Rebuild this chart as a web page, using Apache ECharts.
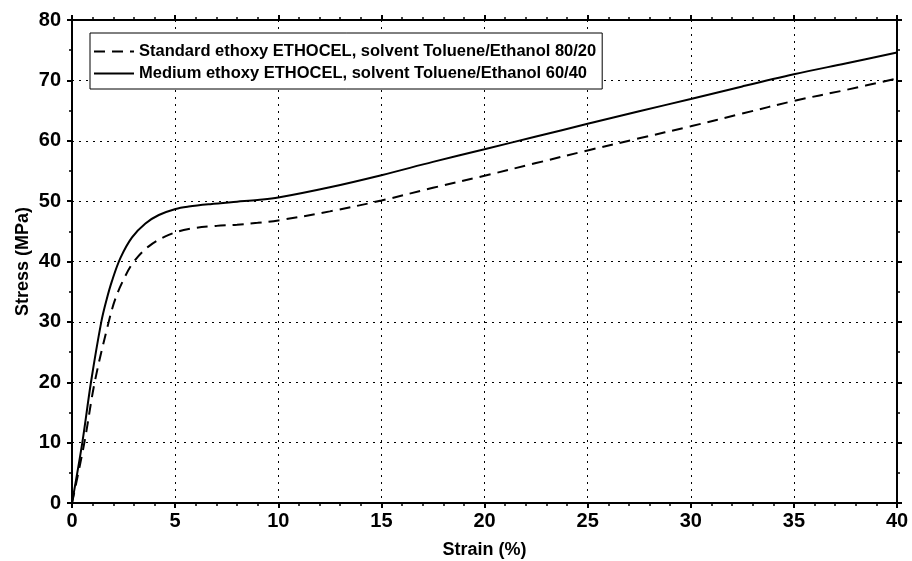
<!DOCTYPE html>
<html>
<head>
<meta charset="utf-8">
<script src="https://cdn.jsdelivr.net/npm/echarts@6/dist/echarts.min.js"></script>
<style>
  html, body { margin: 0; padding: 0; background: #fff; }
  #chart { width: 912px; height: 561px; }
</style>
</head>
<body>
<div id="chart"></div>
<script>
// values
var legendNames = ['Standard ethoxy ETHOCEL, solvent Toluene/Ethanol 80/20',
                   'Medium ethoxy ETHOCEL, solvent Toluene/Ethanol 60/40'];

var strainStd = [0, 0.6, 1.1, 1.78, 2.1, 2.5, 2.96, 3.72, 4.69, 5.66, 7, 8, 9, 10, 12.5, 15, 17.5, 20, 22.5, 25, 27.5, 30, 32.5, 35, 37.5, 40];
var stressStd = [0, 10, 20, 30, 33.8, 37, 39.8, 42.5, 44.4, 45.4, 45.9, 46.1, 46.4, 46.8, 48.3, 50.1, 52.2, 54.2, 56.3, 58.4, 60.4, 62.4, 64.5, 66.6, 68.4, 70.3];

var strainMed = [0, 0.5, 0.92, 1.42, 1.67, 1.94, 2.35, 2.91, 3.56, 4.21, 5.02, 5.66, 6.7, 8, 9, 10, 12.5, 15, 17.5, 20, 22.5, 25, 27.5, 30, 32.5, 35, 37.5, 40];
var stressMed = [0, 10, 20, 30, 33.6, 36.8, 40.6, 44, 46.3, 47.7, 48.7, 49.1, 49.5, 49.9, 50.2, 50.6, 52.3, 54.3, 56.5, 58.6, 60.7, 62.8, 64.9, 66.9, 69, 71, 72.8, 74.6];

function zip(xs, ys) {
  var out = [];
  for (var i = 0; i < xs.length; i++) out.push([xs[i], ys[i]]);
  return out;
}

var FONT = "'Liberation Sans', Arial, sans-serif";

var chart = echarts.init(document.getElementById('chart'));

var axisLine = { show: true, onZero: false, lineStyle: { color: '#000', width: 2 } };
var axisTick = { show: true, inside: false, length: 5, lineStyle: { color: '#000', width: 2 } };
function minor(n) {
  return { show: true, splitNumber: n, length: 3, lineStyle: { color: '#000', width: 1.5 } };
}
var gridLine = { show: true, lineStyle: { color: '#000', width: 1, type: [2, 5] } };
var tickFont = { fontFamily: FONT, fontWeight: 'bold', fontSize: 20, color: '#000' };
var nameFont = { fontFamily: FONT, fontWeight: 'bold', fontSize: 18, color: '#000' };

var option = {
  animation: false,
  backgroundColor: '#fff',
  grid: { left: 72, right: 15, top: 20, bottom: 58, containLabel: false, outerBoundsMode: 'none' },
  legend: {
    orient: 'vertical',
    left: 90,
    top: 33,
    padding: [10, 6, 7, 3],
    itemGap: 5,
    itemWidth: 40,
    itemHeight: 14,
    borderColor: '#000',
    borderWidth: 1,
    backgroundColor: '#fff',
    itemStyle: { opacity: 0 },
    textStyle: { fontFamily: FONT, fontWeight: 'bold', fontSize: 16.5, color: '#000' },
    data: legendNames
  },
  xAxis: [{
    type: 'value', min: 0, max: 40, interval: 5,
    position: 'bottom',
    name: 'Strain (%)', nameLocation: 'middle', nameGap: 38, nameMoveOverlap: false,
    nameTextStyle: nameFont,
    axisLine: axisLine,
    axisTick: axisTick,
    minorTick: minor(5),
    axisLabel: Object.assign({ margin: 8 }, tickFont),
    splitLine: gridLine
  }, {
    type: 'value', min: 0, max: 40, interval: 5,
    position: 'top',
    axisLine: axisLine,
    axisTick: axisTick,
    minorTick: minor(5),
    axisLabel: { show: false },
    splitLine: { show: false }
  }],
  yAxis: [{
    type: 'value', min: 0, max: 80, interval: 10,
    position: 'left',
    name: 'Stress (MPa)', nameLocation: 'middle', nameGap: 40, nameMoveOverlap: false,
    nameTextStyle: nameFont,
    axisLine: axisLine,
    axisTick: axisTick,
    minorTick: minor(2),
    axisLabel: Object.assign({ margin: 11 }, tickFont),
    splitLine: gridLine
  }, {
    type: 'value', min: 0, max: 80, interval: 10,
    position: 'right',
    axisLine: axisLine,
    axisTick: axisTick,
    minorTick: minor(2),
    axisLabel: { show: false },
    splitLine: { show: false }
  }],
  series: [{
    name: legendNames[0],
    type: 'line',
    xAxisIndex: 0, yAxisIndex: 0,
    data: zip(strainStd, stressStd),
    showSymbol: false, symbol: 'none',
    smooth: 0.35,
    lineStyle: { color: '#000', width: 2, type: [11, 7] },
    itemStyle: { color: '#000' }
  }, {
    name: legendNames[1],
    type: 'line',
    xAxisIndex: 0, yAxisIndex: 0,
    data: zip(strainMed, stressMed),
    showSymbol: false, symbol: 'none',
    smooth: 0.35,
    lineStyle: { color: '#000', width: 2, type: 'solid' },
    itemStyle: { color: '#000' }
  }]
};

chart.setOption(option);
</script>
</body>
</html>
